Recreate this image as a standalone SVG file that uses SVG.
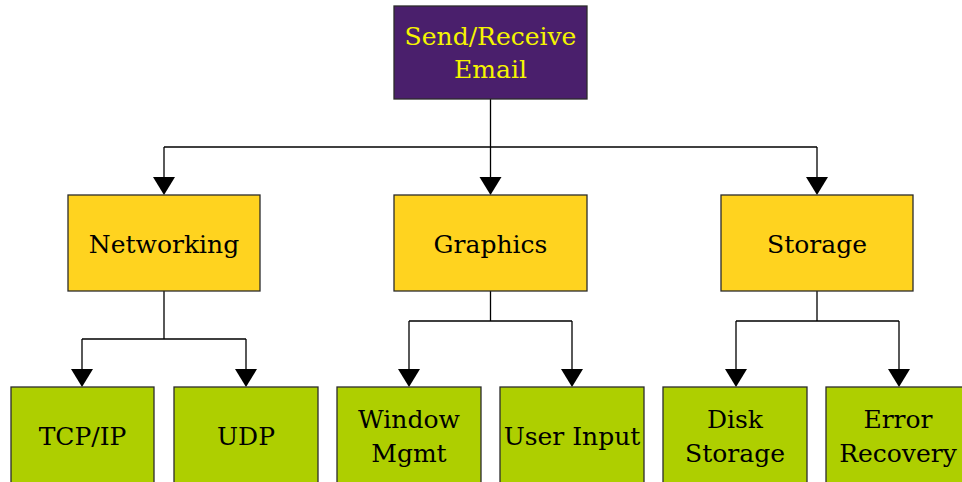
<svg xmlns="http://www.w3.org/2000/svg" width="962" height="482" viewBox="0 0 962 482">
<defs>
<style>
.box{stroke:#2b2b2b;stroke-width:1.3}
.root{fill:#4a1f6c}
.mid{fill:#ffd31f}
.leaf{fill:#aecf00}
text{font-family:"DejaVu Serif","Liberation Serif",serif;font-size:25px;text-anchor:middle}
.rt{fill:#f5f500}
.dk{fill:#000}
.conn{fill:none;stroke:#000;stroke-width:1.3}
.ah{fill:#000}
</style>
</defs>
<rect width="962" height="482" fill="#fff"/>
<g id="connectors">
<path class="conn" d="M490.5,99 V147"/>
<path class="conn" d="M164,147 H817"/>
<path class="conn" d="M164,147 V177"/>
<path class="conn" d="M490.5,147 V177"/>
<path class="conn" d="M817,147 V177"/>
<path class="conn" d="M164,291 V339 M82,339 H246 M82,339 V369 M246,339 V369"/>
<path class="conn" d="M490.5,291 V321 M409,321 H572 M409,321 V369 M572,321 V369"/>
<path class="conn" d="M817,291 V321 M736,321 H899 M736,321 V369 M899,321 V369"/>
<polygon class="ah" points="153,177 175,177 164,195"/>
<polygon class="ah" points="479.5,177 501.5,177 490.5,195"/>
<polygon class="ah" points="806,177 828,177 817,195"/>
<polygon class="ah" points="71,369 93,369 82,387"/>
<polygon class="ah" points="235,369 257,369 246,387"/>
<polygon class="ah" points="398,369 420,369 409,387"/>
<polygon class="ah" points="561,369 583,369 572,387"/>
<polygon class="ah" points="725,369 747,369 736,387"/>
<polygon class="ah" points="888,369 910,369 899,387"/>
</g>
<g id="node-root">
<rect class="box root" x="394" y="6" width="193" height="93"/>
<text class="rt" x="490.5" y="45">Send/Receive</text>
<text class="rt" x="490.5" y="78">Email</text>
</g>
<g id="node-networking">
<rect class="box mid" x="68" y="195" width="192" height="96"/>
<text class="dk" x="164" y="253">Networking</text>
</g>
<g id="node-graphics">
<rect class="box mid" x="394" y="195" width="193" height="96"/>
<text class="dk" x="490.5" y="253">Graphics</text>
</g>
<g id="node-storage">
<rect class="box mid" x="721" y="195" width="192" height="96"/>
<text class="dk" x="817" y="253">Storage</text>
</g>
<g id="node-tcpip">
<rect class="box leaf" x="11" y="387" width="143" height="97"/>
<text class="dk" x="82.5" y="445">TCP/IP</text>
</g>
<g id="node-udp">
<rect class="box leaf" x="174" y="387" width="144" height="97"/>
<text class="dk" x="246" y="445">UDP</text>
</g>
<g id="node-window">
<rect class="box leaf" x="337" y="387" width="144" height="97"/>
<text class="dk" x="409" y="428">Window</text>
<text class="dk" x="409" y="462">Mgmt</text>
</g>
<g id="node-userinput">
<rect class="box leaf" x="500" y="387" width="144" height="97"/>
<text class="dk" x="572" y="445">User Input</text>
</g>
<g id="node-disk">
<rect class="box leaf" x="663" y="387" width="144" height="97"/>
<text class="dk" x="735" y="428">Disk</text>
<text class="dk" x="735" y="462">Storage</text>
</g>
<g id="node-error">
<rect class="box leaf" x="826" y="387" width="144" height="97"/>
<text class="dk" x="898" y="428">Error</text>
<text class="dk" x="898" y="462">Recovery</text>
</g>
</svg>
